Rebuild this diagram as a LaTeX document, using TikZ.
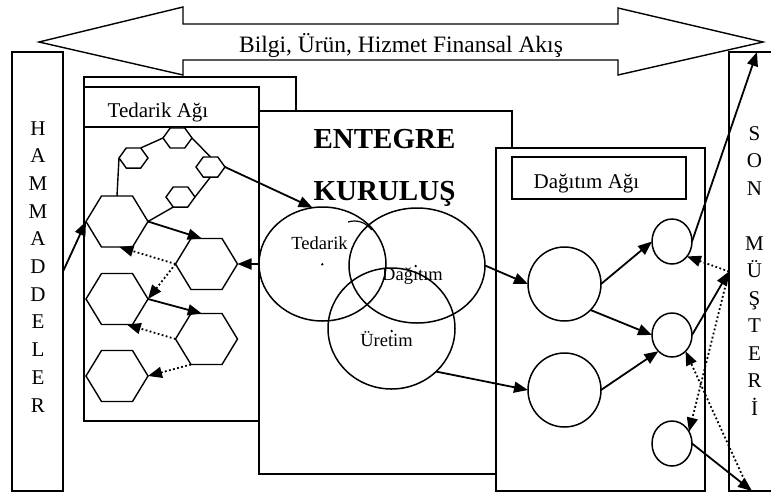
\documentclass[tikz,border=0pt]{standalone}
\usepackage{fontspec}
\setmainfont{Liberation Serif}
\usetikzlibrary{arrows.meta,shapes.geometric}

% place a (possibly flattened) hexagon node centred at (#2,#3)
\newcommand\hexat[4]{%
  \begin{scope}[shift={(#2,#3)}]
    \node[#4, transform shape] (#1) at (0,0) {};
  \end{scope}}

\begin{document}
\begin{tikzpicture}[x=1pt, y=-1pt, line width=1.4pt,
  rectbox/.style={draw, fill=white, rectangle, inner sep=0pt, outer sep=0pt},
  hexbig/.style={draw, fill=white, regular polygon, regular polygon sides=6,
    minimum size=62pt, inner sep=0pt, outer sep=0pt, yscale=0.95},
  hexsmall/.style={draw, fill=white, regular polygon, regular polygon sides=6,
    minimum size=29pt, inner sep=0pt, outer sep=0pt, yscale=0.8},
  oval/.style={draw, ellipse, inner sep=0pt, outer sep=0pt, line width=1.5pt},
  ring/.style={draw, ellipse, fill=white, inner sep=0pt, outer sep=0pt, line width=1.5pt},
  arr/.style={-{Triangle[length=14pt,width=11pt]}, line width=1.8pt},
  dotarr/.style={arr, dash pattern=on 1.8pt off 2.4pt},
  lbl/.style={font=\fontsize{21}{24}\selectfont, anchor=base west, inner sep=0pt},
  vlbl/.style={font=\fontsize{21}{24}\selectfont, anchor=base, inner sep=0pt},
  clbl/.style={font=\fontsize{18.5}{20}\selectfont, anchor=base, inner sep=0pt},
  title/.style={font=\fontsize{29}{32}\selectfont\bfseries, anchor=base, inner sep=0pt}]

\useasboundingbox (0,0) rectangle (771,493);

% two-headed flow arrow across the top
\draw[fill=white, line width=1.4pt]
  (39,42) -- (183,7) -- (183,24) -- (618,24) -- (618,8) -- (763,42)
  -- (618,75) -- (618,60) -- (183,60) -- (183,75) -- cycle;
\node[font=\fontsize{23.5}{26}\selectfont, anchor=base, inner sep=0pt] (flow)
  at (401,52) {Bilgi, Ürün, Hizmet Finansal Akış};

% stacked panels
\node[rectbox, minimum width=212pt, minimum height=223pt] (backpanel) at (190,188.5) {};
\node[rectbox, minimum width=253pt, minimum height=363pt] (firm) at (385.5,292.5) {};
\node[rectbox, minimum width=175pt, minimum height=334pt] (supply) at (171.5,254) {};
\node[rectbox, minimum width=175pt, minimum height=40pt] (supplyhead) at (171.5,107) {};
\node[rectbox, minimum width=209pt, minimum height=343pt] (dist) at (600.5,319.5) {};
\node[rectbox, minimum width=174pt, minimum height=42pt] (disthead) at (599,178) {};
\node[rectbox, minimum width=51pt, minimum height=439pt] (hamm) at (37.5,271.5) {};
\node[rectbox, minimum width=45pt, minimum height=439pt] (son) at (751.5,271.5) {};

\node[lbl] (supplytxt) at (107,117) {Tedarik Ağı};
\node[lbl] (disttxt) at (533,188) {Dağıtım Ağı};
\node[title] (ent1) at (384.5,148) {ENTEGRE};
\node[title] (ent2) at (384.5,200) {KURULUŞ};

% vertical captions
\foreach \c [count=\i] in {H,A,M,M,A,D,D,E,L,E,R}
  \node[vlbl] (hl\i) at (38,{135+(\i-1)*27.7}) {\c};
\foreach \c [count=\i] in {S,O,N,{},M,Ü,Ş,T,E,R,İ}
  \node[vlbl] (sl\i) at (754.5,{140+(\i-1)*27.5}) {\c};

% overlapping functions of the firm
\node[oval, minimum width=127pt, minimum height=114pt] (tedE) at (322.5,264) {};
\node[oval, minimum width=136pt, minimum height=115pt] (dagE) at (417,265.5) {};
\node[oval, minimum width=127pt, minimum height=121pt] (uretE) at (391.5,328.5) {};
\draw[line width=1.2pt] (348,222) .. controls (358,219) and (366,223) .. (372,230);
\fill (322.3,264.3) circle (1.3pt);
\fill (415.7,266) circle (1.3pt);
\fill (391.7,331) circle (1.3pt);
\node[clbl] (tedtxt) at (319.5,249) {Tedarik};
\node[clbl] (dagtxt) at (412.5,280) {Dağıtım};
\node[clbl] (urettxt) at (386.5,346) {Üretim};

% distribution nodes
\node[ring, minimum width=73pt, minimum height=74pt] (bigA) at (564.5,284) {};
\node[ring, minimum width=73pt, minimum height=74pt] (bigB) at (564.5,390) {};
\node[ring, minimum width=40pt, minimum height=45pt] (sA) at (672,241.5) {};
\node[ring, minimum width=40pt, minimum height=44pt] (sB) at (672,335) {};
\node[ring, minimum width=40pt, minimum height=45pt] (sC) at (672,443.5) {};

% supplier hexagons
\hexat{hA}{177.5}{138}{hexsmall}
\hexat{hB}{133.5}{158}{hexsmall}
\hexat{hC}{210.5}{167}{hexsmall}
\hexat{hD}{180.5}{197}{hexsmall}
\hexat{h1}{117}{221.5}{hexbig}
\hexat{h2}{206.5}{264}{hexbig}
\hexat{h3}{117}{299}{hexbig}
\hexat{h4}{206.5}{339}{hexbig}
\hexat{h5}{117}{376}{hexbig}

% plain links between upstream suppliers
\draw (hB.west) -- (h1.north);
\draw (hB.60) -- (hA.west);
\draw (hA.east) -- (hC.north);
\draw (hC.south) -- (hD.east);
\draw (hD.240) -- (h1.east);

\coordinate (sonTop) at (757,52);
\coordinate (sonBot) at (748,488);
\coordinate (sonEnd) at (752,491);

% material flow
\draw[arr] (hamm.east) -- (h1.west);
\draw[arr] (hC.east) -- (tedE.100);
\draw[arr] (h1.east) -- (h2.100);
\draw[arr] (tedE.west) -- (h2.east);
\draw[arr] (h3.east) -- (h4.100);
\draw[arr] (dagE.east) -- (bigA.west);
\draw[arr] (uretE.-44) -- (bigB.west);
\draw[arr] (bigA.east) -- (sA.west);
\draw[arr] (bigA.-45) -- (sB.west);
\draw[arr] (bigB.east) -- (sB.230);
\draw[arr] (sA.east) -- (sonTop);
\draw[arr] (sB.east) -- (son.west);
\draw[arr] (sC.east) -- (sonEnd);

% return flows
\draw[dotarr] (h2.west) -- (h1.275);
\draw[dotarr] (h2.west) -- (h3.east);
\draw[dotarr] (h4.west) -- (h3.290);
\draw[dotarr] (h4.240) -- (h5.east);
\draw[dotarr] (son.west) -- (sA.-45);
\draw[dotarr] (son.west) -- (sC.35);
\draw[dotarr] (sonBot) -- (sB.-50);
\end{tikzpicture}
\end{document}
